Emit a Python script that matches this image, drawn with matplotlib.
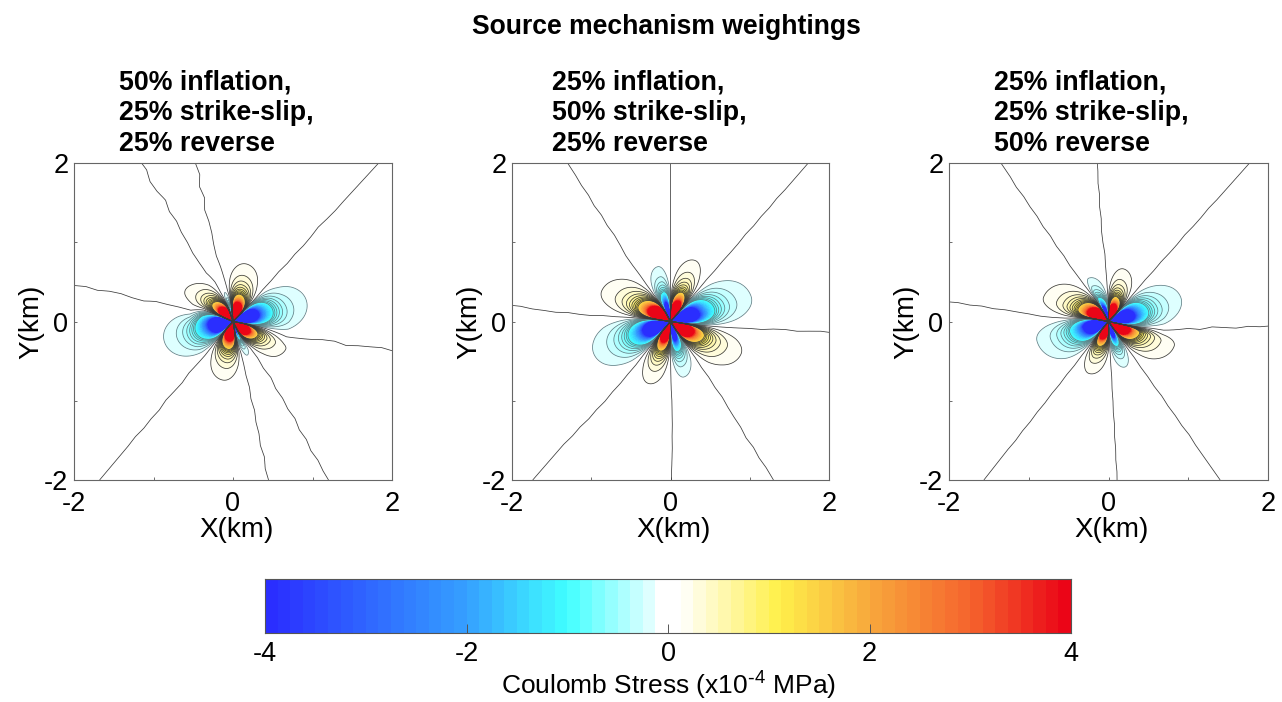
import numpy as np
import matplotlib
matplotlib.use('Agg')
import matplotlib.pyplot as plt
from matplotlib.colors import ListedColormap, BoundaryNorm, LinearSegmentedColormap

plt.rcParams['font.family'] = ['Liberation Sans', 'DejaVu Sans']
plt.rcParams['axes.unicode_minus'] = False
plt.rcParams['mathtext.default'] = 'regular'

FIG_W, FIG_H = 1282, 702
main_title = "Source mechanism weightings"
panel_titles = ["50% inflation,\n25% strike-slip,\n25% reverse",
                "25% inflation,\n50% strike-slip,\n25% reverse",
                "25% inflation,\n25% strike-slip,\n50% reverse"]
x_label = "X(km)"
y_label = "Y(km)"
cbar_label = "Coulomb Stress (x10$^{\\text{-}4}$ MPa)"
panel_ticks = [-2, 0, 2]
panel_minor = [-1, 1]
cbar_ticks = [-4, -2, 0, 2, 4]

radius_knots = [0.15, 0.4, 0.55, 0.7, 0.85, 1.0, 1.15, 1.3, 1.45, 1.6, 1.75, 1.9, 2.05, 2.2, 2.4, 2.9]

# angle (deg, ccw from +x) of each zero line at the radius knots
zero_lines_1 = [[-10, -12, -14, -16, -14.4, -13, -11.5, -11, -12, -11, -10.5, -10, -10.5, -9.8, -9.6, -9.6],
                [45, 46, 47, 47, 47.5, 47, 47.5, 47.2, 47.5, 48, 47.6, 47.4, 47.5, 47.5, 47.5, 47.5],
                [95, 100, 101.5, 102.7, 104.2, 104, 103.4, 103.5, 104.2, 102.9, 103.9, 102.7, 103.3, 103, 103, 103],
                [108, 113, 114.5, 118.8, 119.8, 120.4, 119.9, 120, 119.3, 120, 119, 120.2, 120.6, 119.6, 120.2, 120],
                [157, 158.7, 165, 165, 165.4, 165.4, 167, 166.7, 166, 166.2, 167, 166.6, 167.2, 167, 167, 167],
                [228, 230, 230.5, 230, 229.5, 230.4, 230, 229.6, 230.3, 230, 230.2, 229.8, 230, 230, 230, 230],
                [280, 284, 284, 283.5, 284, 283, 283.6, 282.8, 283, 282.4, 283, 282.3, 282.6, 282.4, 282.4, 282.4],
                [296, 303, 304, 303, 304, 302.4, 302.8, 302, 302.5, 301.4, 301.8, 301, 301.4, 301, 301, 301]]
zero_lines_2 = [[-8, -7, -6.5, -6, -5.5, -5, -5, -4.2, -4, -4.4, -4, -3.7, -4, -3.6, -3.6, -3.6],
                [48, 49, 49, 49.3, 49, 49.2, 49, 49, 49.3, 49, 49.2, 49, 49.2, 49, 49, 49],
                [90, 90, 90, 90, 90, 90, 90, 90, 90, 90, 90, 90, 90, 90, 90, 90],
                [118, 122, 123, 123.4, 124, 124.2, 123.4, 123, 123.4, 123, 123.4, 123, 123.2, 123, 123, 123],
                [172, 174, 174.5, 175, 175, 175.7, 175.5, 175, 175.4, 175, 174.8, 174.2, 174.2, 174, 174, 174],
                [229, 231, 231, 231.4, 231, 231, 230.5, 230.6, 230, 230, 229.4, 229.4, 229, 229, 229, 229],
                [270, 270, 270.2, 270.4, 270.6, 271, 271, 271, 270.8, 270.8, 270.6, 270.4, 270.3, 270.2, 270, 270],
                [302, 304, 304.4, 304, 304.5, 304, 304.4, 303.8, 303.6, 303.6, 303, 303.4, 303, 303.2, 303, 303]]
zero_lines_3 = [[-12, -10, -9, -9, -7, -5, -5, -3, -3, -3, -2, -2, -1.5, -1, -0.5, -0.5],
                [46, 48, 48.5, 48.8, 48.5, 48.8, 48.5, 48.5, 48.8, 48.5, 48.5, 48.7, 48.5, 48.5, 48.5, 48.5],
                [90, 92, 92.5, 93, 93, 94, 94.4, 94, 94.4, 94, 94.3, 94, 94, 94, 94, 94],
                [118, 122, 123.4, 124, 124.5, 124, 124.5, 124, 124.4, 124, 124.2, 124, 124.3, 124, 124, 124],
                [170, 174, 175.5, 175.8, 175.5, 174.5, 174, 173.5, 173.6, 173, 173.2, 172.8, 173, 172.5, 172.5, 172.5],
                [230, 232, 232, 232.4, 232, 232.3, 232, 232.2, 232, 232.2, 232, 232.2, 232, 232, 232, 232],
                [272, 273, 273, 273.3, 273, 273.2, 273, 273.3, 273, 273.2, 273, 273.2, 273, 273, 273, 273],
                [304, 305, 305.4, 305, 305.3, 305, 305.4, 305, 305.2, 305, 305.3, 305, 305, 305, 305, 305]]

# lobe between zero line k and k+1: peak angle, reach of outer contour (km), sign
peak_1 = [16, 77, 110, 147, 196, 261, 292, 331]
reach_1 = [0.96, 0.745, 0.38, 0.72, 0.90, 0.75, 0.46, 0.75]
peak_2 = [17, 68, 103, 156, 203, 250, 284, 335]
reach_2 = [1.065, 0.83, 0.71, 0.95, 1.05, 0.83, 0.72, 0.98]
peak_3 = [18.6, 74, 116, 159, 195, 249, 290, 339]
reach_3 = [0.956, 0.69, 0.60, 0.87, 0.93, 0.70, 0.61, 0.88]
lobe_sign = [-1, 1, -1, 1, -1, 1, -1, 1]
decay_neg, decay_pos = 3.4, 3.1

panels = [(zero_lines_1, peak_1, reach_1), (zero_lines_2, peak_2, reach_2), (zero_lines_3, peak_3, reach_3)]
panel_px = [(74, 392), (512, 829), (949, 1268)]
title_px = [119, 552, 994]

cmap_pos = [-4, -2, -1, -0.13, -0.125, 0.125, 1.1, 2, 3, 4]
cmap_col = ['#2a2aff', '#35a0ff', '#40ffff', '#e8ffff', '#ffffff', '#ffffff', '#fff04a', '#f8a83c', '#f5642d', '#ea0016']
smooth = LinearSegmentedColormap.from_list('cs', [((p + 4) / 8, c) for p, c in zip(cmap_pos, cmap_col)], N=1024)
levels = np.arange(-4, 4.01, 0.125)
levels = np.delete(levels, np.argmin(np.abs(levels)))
centers = 0.5 * (levels[1:] + levels[:-1])
cmap = ListedColormap([smooth((c + 4) / 8) for c in centers])
norm = BoundaryNorm(levels, cmap.N)
neg_lines = np.arange(-1.0, -0.1, 0.125)
pos_lines = np.concatenate([[0], np.arange(0.125, 1.26, 0.125)])
OUTER = 0.125


def stress_field(X, Y, zero_lines, peaks, reaches):
    r = np.hypot(X, Y) + 1e-6
    th = np.degrees(np.arctan2(Y, X))
    out = np.zeros_like(r)
    n = len(zero_lines)
    for k in range(n):
        a0 = np.interp(r, radius_knots, zero_lines[k])
        if k + 1 < n:
            a1 = np.interp(r, radius_knots, zero_lines[k + 1])
        else:
            a1 = np.interp(r, radius_knots, zero_lines[0]) + 360
        pk = peaks[k] + (a0 - zero_lines[k][5])
        d = (th - a0) % 360
        w = a1 - a0
        p = np.clip(pk - a0, 0.2 * w, 0.8 * w)
        t = np.where(d < p, 0.5 * d / p, 0.5 + 0.5 * (d - p) / (w - p))
        inside = d < w
        decay = decay_neg if lobe_sign[k] < 0 else decay_pos
        val = OUTER * (reaches[k] / r) ** decay * np.sin(np.pi * np.clip(t, 0, 1)) ** 1.25
        out = np.where(inside, lobe_sign[k] * val, out)
    return np.clip(out, -6, 6)


fig = plt.figure(figsize=(FIG_W / 100, FIG_H / 100), dpi=100)


def px_axes(x0, x1, y0, y1):
    return fig.add_axes([x0 / FIG_W, 1 - y1 / FIG_H, (x1 - x0) / FIG_W, (y1 - y0) / FIG_H])


g = np.linspace(-2, 2, 1401)
X, Y = np.meshgrid(g, g)
for (x0, x1), (zl, pk, rc), ttl, tx in zip(panel_px, panels, panel_titles, title_px):
    ax = px_axes(x0, x1, 163, 480)
    Z = stress_field(X, Y, zl, pk, rc)
    ax.contourf(X, Y, Z, levels=levels, cmap=cmap, norm=norm, extend='both')
    ax.contour(X, Y, Z, levels=neg_lines, colors='#5a7f85', linewidths=0.55, linestyles='solid')
    ax.contour(X, Y, Z, levels=pos_lines, colors='#3a3a3a', linewidths=0.55, linestyles='solid')
    ax.set_xlim(-2, 2)
    ax.set_ylim(-2, 2)
    ax.set_xticks(panel_ticks)
    ax.set_yticks(panel_ticks)
    ax.set_xticks(panel_minor, minor=True)
    ax.set_yticks(panel_minor, minor=True)
    ax.tick_params(which='both', direction='in', length=2.5, width=0.6, labelsize=19.5, color='#555555')
    ax.tick_params(axis='x', which='major', pad=8)
    ax.tick_params(axis='y', which='major', pad=4)
    for s in ax.spines.values():
        s.set_linewidth(0.8)
        s.set_color('#666666')
    ax.set_xlabel(x_label, fontsize=20, labelpad=0, x=0.51)
    ax.set_ylabel(y_label, fontsize=20, labelpad=0)
    fig.text(tx / FIG_W, 1 - 70 / FIG_H, ttl, fontsize=19.3, fontweight='bold', va='top', ha='left', linespacing=1.22)

fig.text(666 / FIG_W, 1 - 26.5 / FIG_H, main_title, fontsize=19.1, fontweight='bold', ha='center', va='center')

cax = px_axes(265, 1071, 579, 633)
sample = np.linspace(-4, 4, 1601)
cax.pcolormesh(sample, [0, 1], np.array([0.5 * (sample[1:] + sample[:-1])]), cmap=cmap, norm=norm)
cax.set_xlim(-4, 4)
cax.set_yticks([])
cax.set_xticks(cbar_ticks)
cax.tick_params(direction='in', length=6.5, width=0.7, labelsize=19.5, pad=6, color='#555555')
for s in cax.spines.values():
    s.set_linewidth(0.8)
    s.set_color('#555555')
cax.set_xlabel(cbar_label, fontsize=19, labelpad=2)
fig.savefig('out.png', dpi=100)
